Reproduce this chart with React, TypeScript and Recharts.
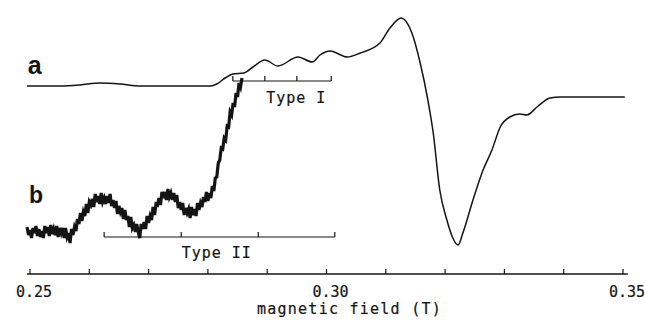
import React from 'react';
import { LineChart, Line, XAxis, YAxis, ReferenceLine, ReferenceDot } from 'recharts';

// field in mT, signal in arbitrary units (0 = level of the field axis)
const FIELD_A = [
  249.5, 255.1, 258.4, 261.8, 265.2, 268.6, 275.3, 280.4, 281.5, 282.9, 284.2, 286.1,
  287.6, 289.6, 291.8, 295.2, 297.6, 298.9, 300.6, 303.5, 305.7, 309.0, 310.7, 312.6,
  314.4, 315.8, 317.0, 318.0, 319.1, 320.3, 321.3, 322.2, 323.0, 324.7, 326.4, 327.9,
  329.3, 330.9, 332.6, 333.8, 335.5, 337.7, 339.4, 350.3,
];
const SIGNAL_A = [
  188, 188, 189, 191, 190, 188, 188, 188, 190, 196, 200, 201,
  207, 214, 208, 217, 212, 219, 223, 217, 221, 231, 246, 256,
  241, 211, 177, 141, 84, 54, 36, 29, 41, 74, 104, 124,
  147, 157, 160, 159, 167, 176, 177, 177,
];

// noisy expanded-gain trace
const FIELD_B = [
  249.5, 249.75, 250.0, 250.25, 250.5, 250.75, 251.0, 251.25, 251.5, 251.75, 252.0, 252.25,
  252.5, 252.75, 253.0, 253.25, 253.5, 253.75, 254.0, 254.25, 254.5, 254.75, 255.0, 255.25,
  255.5, 255.75, 256.0, 256.25, 256.5, 256.75, 257.0, 257.25, 257.5, 257.75, 258.0, 258.25,
  258.5, 258.75, 259.0, 259.25, 259.5, 259.75, 260.0, 260.25, 260.5, 260.75, 261.0, 261.25,
  261.5, 261.75, 262.0, 262.25, 262.5, 262.75, 263.0, 263.25, 263.5, 263.75, 264.0, 264.25,
  264.5, 264.75, 265.0, 265.25, 265.5, 265.75, 266.0, 266.25, 266.5, 266.75, 267.0, 267.25,
  267.5, 267.75, 268.0, 268.25, 268.5, 268.75, 269.0, 269.25, 269.5, 269.75, 270.0, 270.25,
  270.5, 270.75, 271.0, 271.25, 271.5, 271.75, 272.0, 272.25, 272.5, 272.75, 273.0, 273.25,
  273.5, 273.75, 274.0, 274.25, 274.5, 274.75, 275.0, 275.25, 275.5, 275.75, 276.0, 276.25,
  276.5, 276.75, 277.0, 277.25, 277.5, 277.75, 278.0, 278.25, 278.5, 278.75, 279.0, 279.25,
  279.5, 279.75, 280.0, 280.25, 280.5, 280.75, 281.0, 281.25, 281.5, 281.75, 282.0, 282.25,
  282.5, 282.75, 283.0, 283.25, 283.5, 283.75, 284.0, 284.25, 284.5, 284.75, 285.0, 285.25,
  285.5, 285.75,
];
const SIGNAL_B = [
  47, 39, 44, 36, 46, 41, 48, 38, 45, 37, 43, 36,
  48, 41, 47, 38, 49, 40, 45, 39, 48, 37, 46, 41,
  46, 36, 46, 37, 41, 31, 45, 39, 47, 43, 55, 50,
  61, 53, 62, 58, 70, 61, 72, 69, 75, 67, 80, 72,
  78, 70, 81, 72, 76, 70, 78, 71, 80, 68, 74, 66,
  73, 60, 68, 62, 66, 55, 64, 54, 58, 47, 57, 46,
  49, 42, 50, 42, 36, 50, 45, 52, 45, 58, 51, 58,
  54, 67, 59, 70, 69, 76, 69, 82, 76, 82, 74, 85,
  77, 81, 74, 81, 72, 79, 66, 72, 64, 71, 59, 66,
  61, 65, 56, 67, 59, 65, 58, 71, 64, 71, 67, 77,
  72, 82, 73, 81, 76, 88, 83, 96, 97, 111, 114, 126,
  125, 136, 134, 148, 147, 162, 159, 171, 167, 181, 177, 191,
  187, 196,
];

const AXIS_TICKS = [250, 260, 270, 280, 290, 300, 310, 320, 330, 340, 350];
const LABELED_TICKS = [250, 300, 350];
const TYPE_I_LINES = [284.2, 289.6, 295.0, 300.8];
const TYPE_II_LINES = [262.5, 275.5, 288.5, 301.4];

const traceA = FIELD_A.map((field, i) => ({ field, a: SIGNAL_A[i] }));
const traceB = FIELD_B.map((field, i) => ({ field, b: SIGNAL_B[i] }));

const INK = '#141414';
const LETTER = {
  fontFamily: '"DejaVu Sans Mono", monospace',
  fontSize: 15,
  fill: INK,
  stroke: INK,
  strokeWidth: 0.2,
  letterSpacing: 1,
};

const FieldTick = (props: any) => {
  const { x, y, payload } = props;
  const v = payload.value;
  return (
    <g>
      <line x1={x} y1={y} x2={x} y2={y - 5} stroke={INK} strokeWidth={1.2} />
      {LABELED_TICKS.includes(v) && (
        <text x={x + 4} y={y + 23} textAnchor="middle" style={{ ...LETTER, letterSpacing: 0 }}>
          {(v / 1000).toFixed(2)}
        </text>
      )}
    </g>
  );
};

const AxisTitle = (props: any) => {
  const { viewBox } = props;
  const cx = viewBox.x + viewBox.width / 2 + 27;
  return (
    <text x={cx} y={viewBox.y + viewBox.height - 8} textAnchor="middle" style={{ ...LETTER, letterSpacing: 1.25 }}>
      magnetic field (T)
    </text>
  );
};

function bracket(lines: number[], level: number, key: string) {
  const out = [
    <ReferenceLine
      key={key}
      segment={[{ x: lines[0], y: level }, { x: lines[lines.length - 1], y: level }]}
      stroke={INK}
      strokeWidth={1.2}
    />,
  ];
  lines.forEach((p, i) =>
    out.push(
      <ReferenceLine
        key={key + i}
        segment={[{ x: p, y: level }, { x: p, y: level + 5 }]}
        stroke={INK}
        strokeWidth={1.2}
      />
    )
  );
  return out;
}

function tag(text: string, x: number, y: number, style: any) {
  return (
    <ReferenceDot
      x={x}
      y={y}
      r={0}
      fill="none"
      stroke="none"
      label={{ value: text, position: 'center', style }}
    />
  );
}

export default function App() {
  return (
    <div style={{ position: 'absolute', left: 0, top: 0, background: '#fff' }}>
      <LineChart width={645} height={322} margin={{ top: 0, right: 0, bottom: 0, left: 0 }}>
        <XAxis
          type="number"
          dataKey="field"
          domain={[244.94, 353.71]}
          allowDataOverflow
          ticks={AXIS_TICKS}
          interval={0}
          axisLine={false}
          tickLine={false}
          tickSize={0}
          tickMargin={0}
          tick={<FieldTick />}
          height={48}
          label={<AxisTitle />}
        />
        <YAxis type="number" hide domain={[0, 274]} allowDataOverflow />
        <ReferenceLine segment={[{ x: 249.5, y: 0 }, { x: 350.8, y: 0 }]} stroke={INK} strokeWidth={1.4} />
        {bracket(TYPE_I_LINES, 193, 't1')}
        {bracket(TYPE_II_LINES, 37, 't2')}
        {tag('Type I', 294.9, 176, LETTER)}
        {tag('Type II', 281.5, 21, LETTER)}
        {tag('a', 250.8, 209, { fontFamily: '"Liberation Sans", Arial, sans-serif', fontWeight: 700, fontSize: 25, fill: INK })}
        {tag('b', 251.0, 79, { fontFamily: '"Liberation Sans", Arial, sans-serif', fontWeight: 700, fontSize: 23, fill: INK })}
        <Line data={traceB} dataKey="b" type="linear" stroke={INK} strokeWidth={3.2} dot={false} activeDot={false} isAnimationActive={false} />
        <Line data={traceA} dataKey="a" type="monotone" stroke={INK} strokeWidth={1.5} dot={false} activeDot={false} isAnimationActive={false} />
      </LineChart>
    </div>
  );
}
